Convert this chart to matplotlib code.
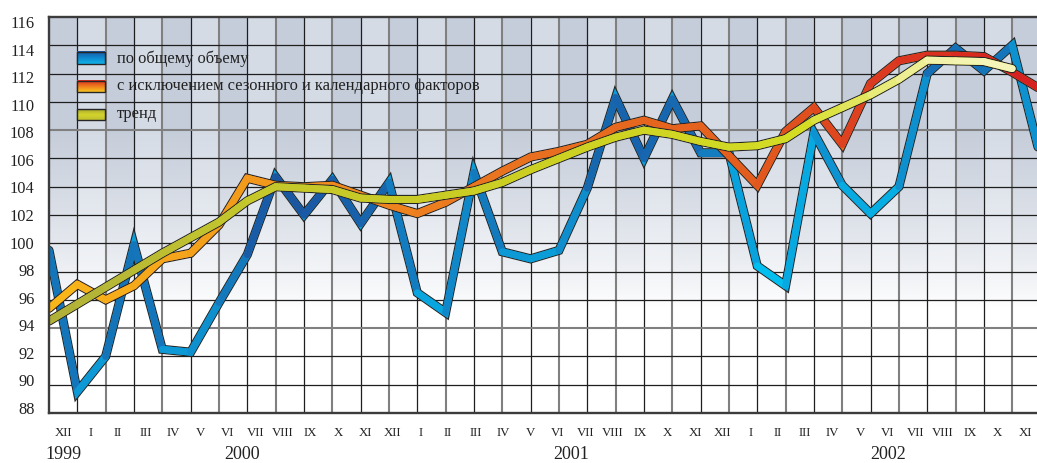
import numpy as np
import matplotlib
matplotlib.use('Agg')
import matplotlib.pyplot as plt
from matplotlib.collections import LineCollection
from matplotlib.colors import LinearSegmentedColormap
from matplotlib.patches import Rectangle
import matplotlib.transforms as mtransforms

# ---------------- data ----------------
month_labels = (['XII'] + ['I', 'II', 'III', 'IV', 'V', 'VI', 'VII', 'VIII', 'IX', 'X', 'XI', 'XII'] * 2
                + ['I', 'II', 'III', 'IV', 'V', 'VI', 'VII', 'VIII', 'IX', 'X', 'XI'])
year_labels = ['1999', '2000', '2001', '2002']
year_label_at = [0, 6.5, 18.5, 30.0]          # in month-label units

total = [99.5, 89.5, 92.0, 99.9, 92.5, 92.3, 95.8, 99.2, 104.7, 102.0, 104.5, 101.4,
         104.3, 96.5, 95.1, 105.0, 99.4, 98.9, 99.5, 103.9, 110.3, 106.0, 110.2, 106.4,
         106.4, 98.4, 97.0, 107.8, 104.1, 102.1, 104.0, 112.0, 113.8, 112.2, 114.0, 106.1]
adjusted = [95.4, 97.1, 96.0, 97.0, 98.9, 99.3, 101.3, 104.6, 104.1, 104.0, 104.1, 103.4,
            102.7, 102.1, 102.9, 104.0, 105.1, 106.1, 106.5, 107.0, 108.2, 108.7, 108.1, 108.3,
            106.2, 104.1, 107.9, 109.6, 107.0, 111.3, 112.9, 113.3, 113.3, 113.2, 112.1, 110.9]
trend = [94.5, 95.7, 96.9, 98.1, 99.3, 100.4, 101.5, 103.0, 104.0, 103.9, 103.8, 103.2,
         103.1, 103.1, 103.4, 103.7, 104.3, 105.2, 106.0, 106.8, 107.5, 108.0, 107.7, 107.2,
         106.8, 106.9, 107.4, 108.7, 109.6, 110.5, 111.6, 112.95, 112.9, 112.85, 112.35]

legend_labels = ['по общему объему',
                 'с исключением сезонного и календарного факторов',
                 'тренд']

yticks = list(range(88, 117, 2))

# ---------------- figure ----------------
W, H = 1037, 463
fig = plt.figure(figsize=(W / 100, H / 100), dpi=100)
fig.patch.set_facecolor('white')
ax = fig.add_axes([49 / W, (H - 413) / H, (W - 49) / W, (413 - 17) / H])
XMAX = (W - 49) / 28.33
ax.set_xlim(0, XMAX)
ax.set_ylim(88, 116)

serif = ['Liberation Serif', 'DejaVu Serif']
txtc = '#222222'

# background gradient with alternating columns
nx, ny = 1000, 400
xs = np.linspace(0, XMAX, nx)
vs = np.linspace(116, 88, ny)
f = np.clip((vs - 95.5) / 12.5, 0, 1) ** 0.75
even = (np.floor(xs).astype(int) % 2 == 0)
dark = np.array([0.775, 0.805, 0.855])
light = np.array([0.835, 0.860, 0.900])
top = np.where(even[:, None], dark[None, :], light[None, :])  # nx x 3
img = 1 - (1 - top[None, :, :]) * f[:, None, None]
ax.imshow(img, extent=[0, XMAX, 88, 116], aspect='auto', zorder=0, interpolation='bilinear')

# grid
for j in range(1, 35):
    if j % 2 == 1:
        ax.axvline(j, color='#1e1e1e', lw=0.9, zorder=1)
    else:
        ax.axvline(j, color='#808080', lw=1.5, zorder=1)
for v in yticks[1:-1]:
    if v in (94, 108):
        ax.axhline(v, color='#808080', lw=1.5, zorder=1)
    else:
        ax.axhline(v, color='#1e1e1e', lw=0.9, zorder=1)

for s in ['left', 'bottom', 'top']:
    ax.spines[s].set_color('#3c3c3c')
    ax.spines[s].set_linewidth(1.7)
    ax.spines[s].set_zorder(6)
ax.spines['right'].set_visible(False)


def draw_series(vals, cmap, colfun, z, outline='#262626'):
    x = np.arange(len(vals))
    y = np.asarray(vals, float)
    ax.plot(x, y, color=outline, lw=6.6, solid_joinstyle='miter', solid_capstyle='round', zorder=z)
    segs = [[(x[i], y[i]), (x[i + 1], y[i + 1])] for i in range(len(x) - 1)]
    cols = [cmap(colfun(x[i:i + 2].mean(), y[i:i + 2].mean())) for i in range(len(x) - 1)]
    ax.plot(x, y, color=cols[len(cols) // 2], lw=5.0, solid_joinstyle='miter',
            solid_capstyle='round', zorder=z + 0.1)
    lc = LineCollection(segs, colors=cols, linewidths=5.0, capstyle='round', zorder=z + 0.2)
    ax.add_collection(lc)


blue_cmap = LinearSegmentedColormap.from_list('b', [(0, '#00c4f4'), (0.35, '#0aa2dc'),
                                                    (0.6, '#137cbf'), (0.85, '#1a5aa6'),
                                                    (1, '#1c4a94')])
orange_cmap = LinearSegmentedColormap.from_list('o', [(0, '#f8b818'), (0.2, '#f29a1c'),
                                                      (0.45, '#ea7420'), (0.7, '#e35e1e'),
                                                      (0.85, '#dc3820'), (1, '#d42020')])
trend_cmap = LinearSegmentedColormap.from_list('t', [(0, '#b0b03a'), (0.2, '#c4c62c'),
                                                     (0.5, '#cccf22'), (0.78, '#d4dc24'),
                                                     (0.86, '#e6ea70'), (0.92, '#f2f2a8'),
                                                     (1, '#f6f6bc')])

draw_series(total, blue_cmap,
            lambda xx, yy: np.clip(((yy - 88) / 28 - 0.7 * xx / 35 + 0.2) / 0.65, 0, 1), 3)
draw_series(adjusted, orange_cmap, lambda xx, yy: np.clip(xx / 35, 0, 1), 4)
draw_series(trend, trend_cmap, lambda xx, yy: np.clip(xx / 34, 0, 1), 5)

# legend
patch_grads = [
    ['#1a56a4', '#0f86cc', '#12b4ea'],
    ['#dc2a1e', '#ee7a1e', '#f8c420'],
    ['#a8a830', '#d4d42c', '#c0c030'],
]
patch_y = [(112.66, 113.51), (110.68, 111.46), (108.71, 109.48)]
text_y = [113.08, 111.1, 109.13]
for (y0, y1), g, ty, lab in zip(patch_y, patch_grads, text_y, legend_labels):
    cm = LinearSegmentedColormap.from_list('p', g)
    grad = cm(np.linspace(0, 1, 30))[:, None, :3]
    ax.imshow(grad, extent=[0.99, 1.97, y0, y1], aspect='auto', zorder=6, interpolation='bilinear')
    ax.add_patch(Rectangle((0.99, y0), 0.98, y1 - y0, fill=False, ec='#262626', lw=1.0, zorder=6.1))
    ax.text(2.4, ty, lab, family=serif, fontsize=11.9, color=txtc, va='center', ha='left', zorder=7)

# y tick labels (slightly compressed placement like the source)
label_pos = [116 - (22 + (116 - v) * 13.785 - 16.7) / 14.165 for v in yticks]
ax.set_yticks(label_pos, labels=[str(v) for v in yticks])
ax.tick_params(axis='y', length=0, pad=10.5, labelsize=11.8, labelcolor=txtc)
for t in ax.get_yticklabels():
    t.set_family(serif)
ax.set_xticks([])

trans = mtransforms.blended_transform_factory(ax.transData, ax.transAxes)
for k, lab in enumerate(month_labels):
    ax.text(0.494 + 0.9703 * k, -0.0497, lab, transform=trans, family=serif, fontsize=9.3,
            color=txtc, ha='center', va='center', clip_on=False)
for yl, pos in zip(year_labels, year_label_at):
    ax.text(0.494 + 0.9703 * pos, -0.106, yl, transform=trans, family=serif, fontsize=13,
            color=txtc, ha='center', va='center', clip_on=False)

fig.savefig('out.png', dpi=100, facecolor='white')
